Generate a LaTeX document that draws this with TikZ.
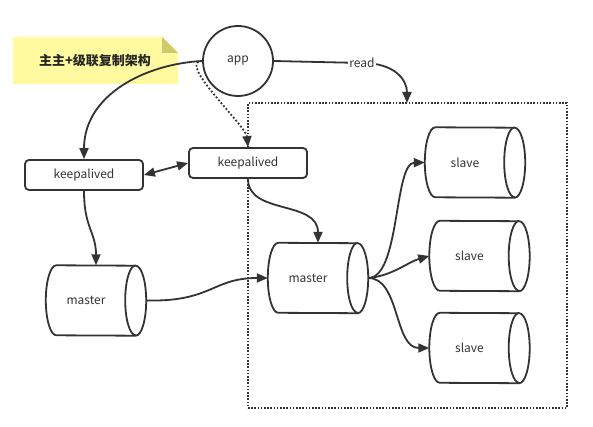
\documentclass[tikz,border=0pt]{standalone}
\usepackage{fontspec}
\setmainfont{Noto Sans CJK SC}
\usetikzlibrary{arrows.meta}
\definecolor{ink}{HTML}{333333}
\definecolor{noteyel}{HTML}{FFFAA0}
\definecolor{notefold}{HTML}{CFCB6A}
\newcommand\cylout[1]{%
  \draw[ln] ([xshift=10.5pt]#1.north west) arc[start angle=90,end angle=270,x radius=10.5pt,y radius=35pt]
    -- ([xshift=-10.5pt]#1.south east) arc[start angle=-90,end angle=90,x radius=10.5pt,y radius=35pt] -- cycle;
  \draw[ln] ([xshift=-10.5pt]#1.north east) arc[start angle=90,end angle=270,x radius=10.5pt,y radius=35pt];}
\newcommand\shifted[1]{\makebox[0pt][c]{\hspace{-20pt}#1}}
\begin{document}
\begin{tikzpicture}[x=1pt,y=-1pt,
  ln/.style={draw=ink,line width=1.8pt},
  arr/.style={ln,-{Triangle[length=11pt,width=9pt]}},
  dbl/.style={ln,{Triangle[length=11pt,width=9pt]}-{Triangle[length=11pt,width=9pt]}},
  lbl/.style={font=\fontsize{12}{14}\selectfont,text=ink},
  kbox/.style={ln,rounded corners=4pt,minimum width=118pt,minimum height=30pt,inner sep=0pt,lbl},
  cyl/.style={minimum width=100pt,minimum height=70pt,inner sep=0pt,lbl},
  zonebox/.style={draw=ink,line width=1.6pt,dash pattern=on 1.6pt off 1.6pt,minimum width=319pt,minimum height=305pt,inner sep=0pt}]
\useasboundingbox (0,0) rectangle (593,427);
% note
\fill[noteyel] (13,37) -- (162,37) -- (178,53) -- (178,84) -- (13,84) -- cycle;
\fill[notefold] (162,37) -- (178,53) -- (162,53) -- cycle;
\node[font=\bfseries\fontsize{13}{15}\selectfont,text=black!85] (note) at (95,61) {主主+级联复制架构};
% zone
\node[zonebox] (zone) at (407.5,255.5) {};
\coordinate (readend) at (407,103);
% nodes
\node[ln,circle,minimum size=70pt,inner sep=0pt,lbl,fill=white] (app) at (238,61) {app};
\node[kbox] (kl) at (84,175) {keepalived};
\node[kbox,fill=white] (kr) at (248,163) {keepalived};
\node[cyl] (ml) at (96,300.5) {\shifted{master}};
\node[cyl] (mr) at (318,278) {\shifted{master}};
\node[cyl] (s1) at (475,162.5) {\shifted{slave}};
\node[cyl] (s2) at (479.5,256) {\shifted{slave}};
\node[cyl] (s3) at (479.5,348) {\shifted{slave}};
\cylout{ml}\cylout{mr}\cylout{s1}\cylout{s2}\cylout{s3}
% connectors
\draw[arr,dotted,line width=1.8pt] (app.west) .. controls (176,61) and (246,126) .. (kr.north);
\draw[arr] (app.west) .. controls (145,64) and (84,95) .. (kl.north);
\draw[arr] (app.east) -- (362,63) node[fill=white,inner sep=1pt,lbl] (readlbl) {read}
  .. controls (395,63) and (407,80) .. (readend);
\draw[dbl] (kl.east) -- (kr.west);
\draw[arr] (kl.south) .. controls (84,228) and (96,232) .. (ml.north);
\draw[arr] (kr.south) .. controls (248,215) and (318,200) .. (mr.north);
\draw[arr] (ml.east) .. controls (212,302) and (212,278) .. (mr.west);
\draw[arr] (mr.east) .. controls (400,278) and (394,163) .. (s1.west);
\draw[arr] (mr.east) .. controls (392,276) and (408,262) .. (s2.west);
\draw[arr] (mr.east) .. controls (400,278) and (394,348) .. (s3.west);
\end{tikzpicture}
\end{document}
